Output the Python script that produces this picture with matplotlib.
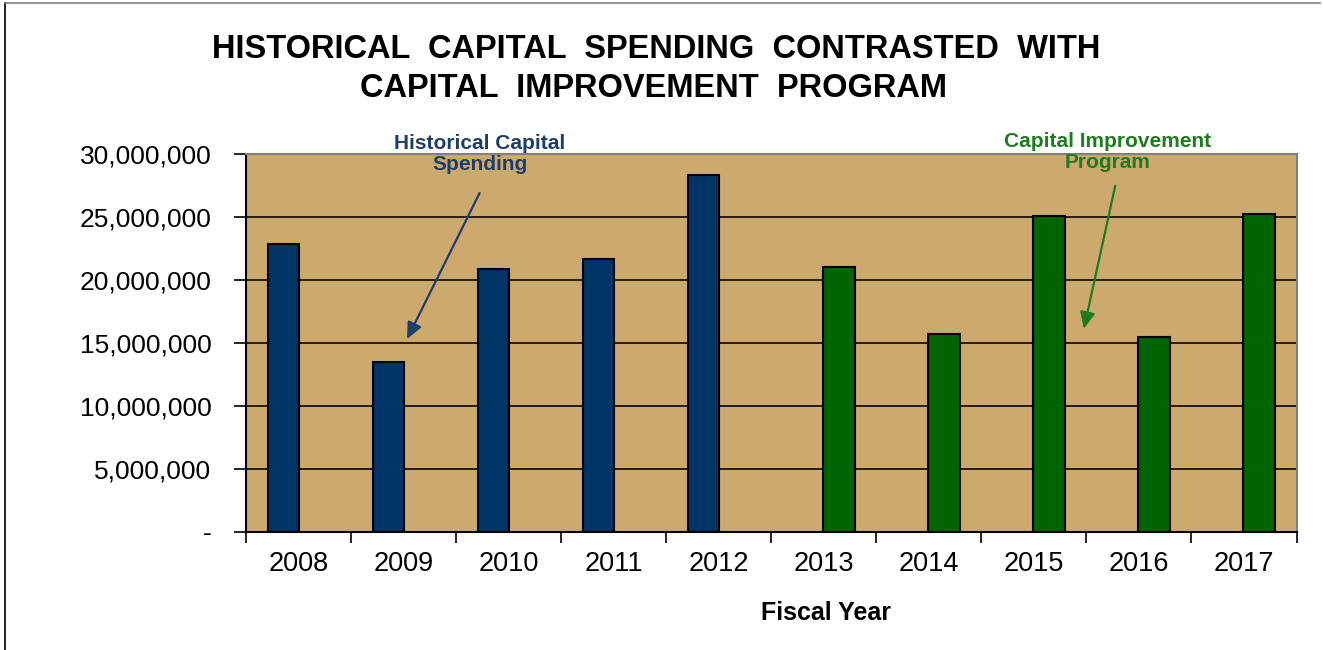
import matplotlib.pyplot as plt
from matplotlib.lines import Line2D
from matplotlib.ticker import FuncFormatter
import numpy as np

years = ["2008", "2009", "2010", "2011", "2012",
         "2013", "2014", "2015", "2016", "2017"]
historical = [22850000, 13500000, 20850000, 21700000, 28300000]
program = [21050000, 15700000, 25100000, 15500000, 25200000]

NAVY = "#003366"
GREEN = "#006400"
TAN = "#CCAA6E"

plt.rcParams["font.family"] = ["Liberation Sans", "DejaVu Sans"]

fig = plt.figure(figsize=(13.23, 6.5), dpi=100)
ax = fig.add_axes([0.186, 0.182, 0.794, 0.581])
ax.set_facecolor(TAN)

x = np.arange(len(years))
n_hist = len(historical)
ax.bar(x[:n_hist] - 0.145, historical, width=0.3, color=NAVY,
       edgecolor="black", linewidth=1.5, zorder=3)
ax.bar(x[n_hist:] + 0.145, program, width=0.3, color=GREEN,
       edgecolor="black", linewidth=1.5, zorder=3)

ax.set_xlim(-0.5, len(years) - 0.5)
ax.set_ylim(0, 30000000)
ax.set_yticks(np.arange(0, 30000001, 5000000))
ax.yaxis.set_major_formatter(
    FuncFormatter(lambda v, p: "-" if v == 0 else f"{int(v):,}"))
ax.grid(axis="y", color="#1a1208", linewidth=1.3, zorder=1)
ax.set_axisbelow(True)

# category labels centred, ticks on category boundaries
ax.set_xticks(x)
ax.set_xticklabels(years)
ax.set_xticks(np.arange(-0.5, len(years), 1.0), minor=True)
ax.tick_params(axis="x", which="major", length=0, labelsize=19.5, pad=14)
ax.tick_params(axis="x", which="minor", length=8, width=1.2, direction="out")
ax.tick_params(axis="y", length=9, width=1.2, labelsize=19, pad=16)

for s in ("left", "bottom"):
    ax.spines[s].set_color("black")
    ax.spines[s].set_linewidth(1.5)
for s in ("top", "right"):
    ax.spines[s].set_color("#808080")
    ax.spines[s].set_linewidth(1.5)

fig.text(0.624, 0.057, "Fiscal Year", ha="center", va="center",
         fontsize=18, fontweight="bold")

fig.text(0.496, 0.924, "HISTORICAL  CAPITAL  SPENDING  CONTRASTED  WITH",
         ha="center", va="center", fontsize=23.5, fontweight="bold")
fig.text(0.494, 0.864, "CAPITAL  IMPROVEMENT  PROGRAM",
         ha="center", va="center", fontsize=23.5, fontweight="bold")

# annotations
ax.text(1.725, 30000000, "Historical Capital\nSpending", ha="center",
        va="center", fontsize=15, fontweight="bold", color="#1F3D6B",
        linespacing=1.1, clip_on=False)
ax.annotate("", xy=(1.02, 15100000), xytext=(1.735, 27100000),
            arrowprops=dict(arrowstyle="-|>,head_length=1.0,head_width=0.45",
                            color="#1F3D6B", lw=1.6))
ax.text(7.70, 30150000, "Capital Improvement\nProgram", ha="center",
        va="center", fontsize=15, fontweight="bold", color="#1E7B1E",
        linespacing=1.1, clip_on=False)
ax.annotate("", xy=(7.47, 15900000), xytext=(7.78, 27700000),
            arrowprops=dict(arrowstyle="-|>,head_length=1.0,head_width=0.45",
                            color="#1E7B1E", lw=1.6))

# outer frame lines
fig.add_artist(Line2D([0.004, 0.004], [0, 0.995], color="black", lw=1.2))
fig.add_artist(Line2D([0.004, 0.998], [0.995, 0.995], color="#808080", lw=1.2))

fig.savefig("out.png", dpi=100)
